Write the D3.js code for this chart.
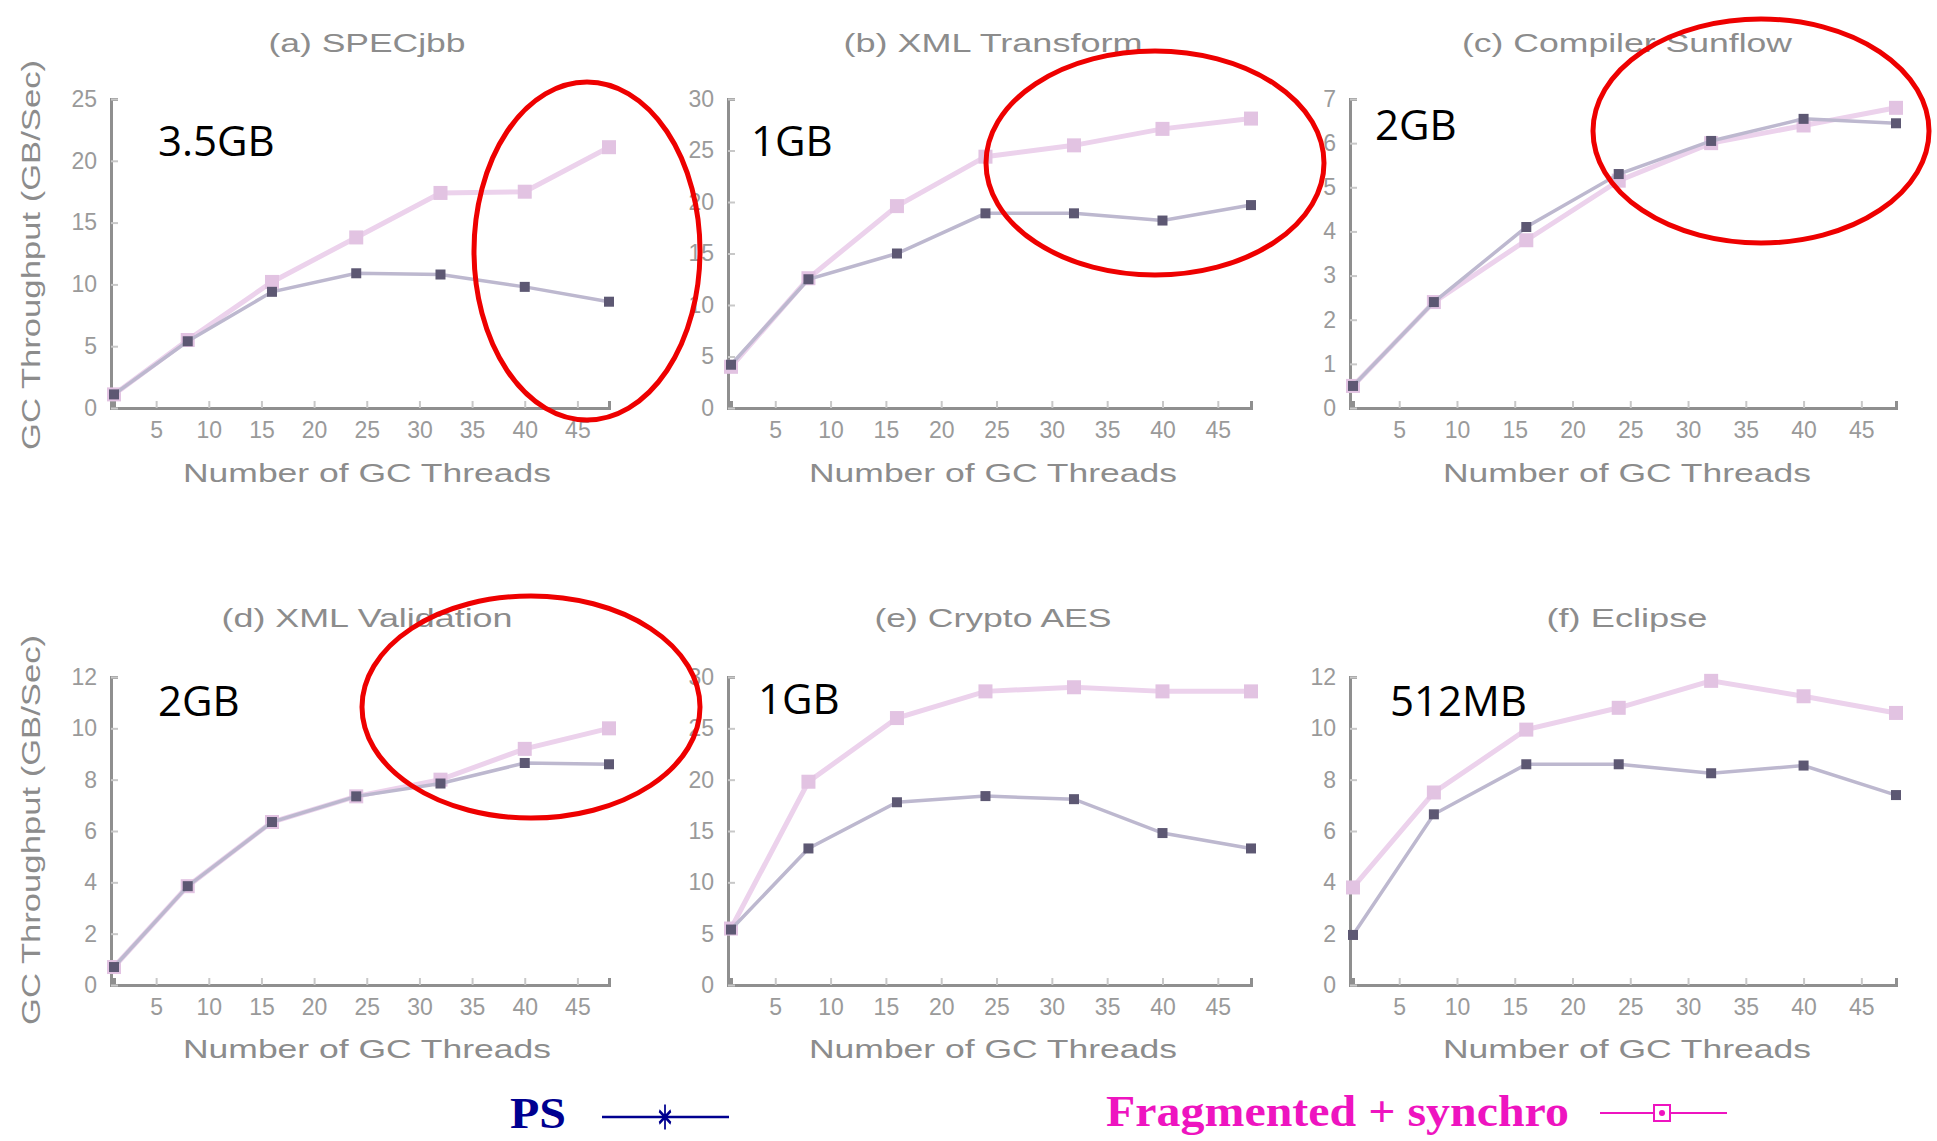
<!DOCTYPE html>
<html>
<head>
<meta charset="utf-8">
<script src="https://cdn.jsdelivr.net/npm/d3@7"></script>
<style>
  body { margin: 0; background: #fff; }
  svg { display: block; }
</style>
</head>
<body>
<svg width="1937" height="1141"></svg>
<script>
// GC thread counts measured
const threads = [1, 8, 16, 24, 32, 40, 48];
const xTickValues = [5, 10, 15, 20, 25, 30, 35, 40, 45];

const panelTitles = ['(a) SPECjbb', '(b) XML Transform', '(c) Compiler Sunflow',
                     '(d) XML Validation', '(e) Crypto AES', '(f) Eclipse'];
const heapSizes = ['3.5GB', '1GB', '2GB', '2GB', '1GB', '512MB'];
const yMaxes = [25, 30, 7, 12, 30, 12];
const yTickSteps = [5, 5, 1, 2, 5, 2];

// PS series, one per panel
const psSpecjbb = [1.1, 5.4, 9.4, 10.9, 10.8, 9.8, 8.6];
const psXmlTransform = [4.2, 12.5, 15.0, 18.9, 18.9, 18.2, 19.7];
const psSunflow = [0.5, 2.4, 4.1, 5.3, 6.05, 6.55, 6.45];
const psXmlValidation = [0.7, 3.85, 6.35, 7.35, 7.85, 8.65, 8.6];
const psCryptoAes = [5.4, 13.3, 17.8, 18.4, 18.1, 14.8, 13.3];
const psEclipse = [1.95, 6.65, 8.6, 8.6, 8.25, 8.55, 7.4];

// Fragmented + synchro series
const fragSpecjbb = [1.1, 5.5, 10.2, 13.8, 17.4, 17.5, 21.1];
const fragXmlTransform = [4.0, 12.6, 19.6, 24.4, 25.5, 27.1, 28.1];
const fragSunflow = [0.5, 2.4, 3.8, 5.15, 6.0, 6.4, 6.8];
const fragXmlValidation = [0.7, 3.85, 6.35, 7.35, 8.0, 9.2, 10.0];
const fragCryptoAes = [5.5, 19.8, 26.0, 28.6, 29.0, 28.6, 28.6];
const fragEclipse = [3.8, 7.5, 9.95, 10.8, 11.85, 11.25, 10.6];

const psSeries = [psSpecjbb, psXmlTransform, psSunflow, psXmlValidation, psCryptoAes, psEclipse];
const fragSeries = [fragSpecjbb, fragXmlTransform, fragSunflow, fragXmlValidation, fragCryptoAes, fragEclipse];

// layout
const cols = [[114, 609], [731, 1251], [1353, 1896]];
const rows = [[408, 99], [985, 677]];
const titleCx = [367, 993, 1627];
const titleW = [197, 299, 330, 291, 237, 161];
const heapPos = [[158, 156], [751, 156], [1375, 140], [158, 716], [758, 714], [1390, 716]];

const svg = d3.select('svg');
const grey = '#8c8c8c';

for (let p = 0; p < 6; p++) {
	const col = p % 3;
	const row = Math.floor(p / 3);
	const g = svg.append('g');

	const x = d3.scaleLinear().domain([1, 48]).range(cols[col]);
	const y = d3.scaleLinear().domain([0, yMaxes[p]]).range(rows[row]);

	const yTicks = d3.range(0, yMaxes[p] + 0.001, yTickSteps[p]);

	// axes
	const xAxis = d3.axisBottom(x).tickValues(xTickValues).tickSize(-7).tickPadding(14);
	g.append('g').attr('transform', `translate(0,${rows[row][0]})`).call(xAxis);
	const yAxis = d3.axisLeft(y).tickValues(yTicks).tickFormat(d3.format('d')).tickSize(-7).tickPadding(14);
	g.append('g').attr('transform', `translate(${cols[col][0] - 3},0)`).call(yAxis);

	g.selectAll('.domain').attr('stroke', '#8f8f8f').attr('stroke-width', 3)
	g.selectAll('.tick line').attr('stroke', '#c8c8c8').attr('stroke-width', 2);
	g.selectAll('.tick text').attr('fill', '#9a9a9a').attr('font-size', 23)
		.attr('font-family', 'Liberation Sans, sans-serif');

	// lines
	const line = d3.line().x((d, i) => x(threads[i])).y(d => y(d));

	g.append('path').datum(fragSeries[p]).attr('d', line)
		.attr('fill', 'none').attr('stroke', '#ecd2ec').attr('stroke-width', 5);
	g.selectAll('.fragPt').data(fragSeries[p]).enter().append('rect')
		.attr('x', (d, i) => x(threads[i]) - 7).attr('y', d => y(d) - 7)
		.attr('width', 14).attr('height', 14).attr('fill', '#e2c3e2');

	g.append('path').datum(psSeries[p]).attr('d', line)
		.attr('fill', 'none').attr('stroke', '#bdb8cf').attr('stroke-width', 3.5);
	g.selectAll('.psPt').data(psSeries[p]).enter().append('rect')
		.attr('x', (d, i) => x(threads[i]) - 5).attr('y', d => y(d) - 5)
		.attr('width', 10).attr('height', 10).attr('fill', '#5d5873');

	// titles
	const titleY = row === 0 ? 52 : 627;
	g.append('text').attr('x', titleCx[col]).attr('y', titleY)
		.attr('text-anchor', 'middle').attr('fill', grey).attr('font-size', 25)
		.attr('font-family', 'Liberation Sans, sans-serif')
		.attr('textLength', titleW[p]).attr('lengthAdjust', 'spacingAndGlyphs')
		.text(panelTitles[p]);

	const xlabY = row === 0 ? 482 : 1058;
	g.append('text').attr('x', titleCx[col]).attr('y', xlabY)
		.attr('text-anchor', 'middle').attr('fill', grey).attr('font-size', 25)
		.attr('font-family', 'Liberation Sans, sans-serif')
		.attr('textLength', 368).attr('lengthAdjust', 'spacingAndGlyphs')
		.text('Number of GC Threads');

	if (col === 0) {
		const cy = row === 0 ? 255 : 830;
		g.append('text').attr('transform', `translate(40,${cy}) rotate(-90)`)
			.attr('text-anchor', 'middle').attr('fill', grey).attr('font-size', 25)
			.attr('font-family', 'Liberation Sans, sans-serif')
			.attr('textLength', 390).attr('lengthAdjust', 'spacingAndGlyphs')
			.text('GC Throughput (GB/Sec)');
	}

	// heap size annotation
	g.append('text').attr('x', heapPos[p][0]).attr('y', heapPos[p][1])
		.attr('fill', '#000').attr('font-size', 42)
		.attr('font-family', 'Open Sans, sans-serif')
		.text(heapSizes[p]);
}

// red highlight ellipses
const ellipses = [[587, 251, 113, 169], [1155, 163, 169, 112], [1761, 131, 168, 112], [531, 707, 169, 111]];
svg.selectAll('.hl').data(ellipses).enter().append('ellipse')
	.attr('cx', d => d[0]).attr('cy', d => d[1]).attr('rx', d => d[2]).attr('ry', d => d[3])
	.attr('fill', 'none').attr('stroke', '#ee0000').attr('stroke-width', 5);

// legend
const legend = svg.append('g');
legend.append('text').attr('x', 510).attr('y', 1128).attr('fill', '#000090')
	.attr('font-family', 'Liberation Serif, serif').attr('font-weight', 'bold').attr('font-size', 44)
	.attr('textLength', 56).attr('lengthAdjust', 'spacingAndGlyphs').text('PS');
legend.append('line').attr('x1', 602).attr('x2', 729).attr('y1', 1117).attr('y2', 1117)
	.attr('stroke', '#000090').attr('stroke-width', 2.5);
const sym = d3.symbol().type(d3.symbolAsterisk).size(260);
legend.append('path').attr('d', sym()).attr('transform', 'translate(665,1117) scale(0.7,1.3)')
	.attr('fill', 'none').attr('stroke', '#000090').attr('stroke-width', 2.5);

legend.append('text').attr('x', 1106).attr('y', 1126).attr('fill', '#ee14c0')
	.attr('font-family', 'Liberation Serif, serif').attr('font-weight', 'bold').attr('font-size', 44)
	.attr('textLength', 463).attr('lengthAdjust', 'spacingAndGlyphs').text('Fragmented + synchro');
legend.append('line').attr('x1', 1600).attr('x2', 1727).attr('y1', 1113).attr('y2', 1113)
	.attr('stroke', '#ee14c0').attr('stroke-width', 2);
legend.append('rect').attr('x', 1654).attr('y', 1105).attr('width', 16).attr('height', 16)
	.attr('fill', '#fff').attr('stroke', '#ee14c0').attr('stroke-width', 2);
legend.append('circle').attr('cx', 1662).attr('cy', 1113).attr('r', 3).attr('fill', '#ee14c0');
</script>
</body>
</html>
